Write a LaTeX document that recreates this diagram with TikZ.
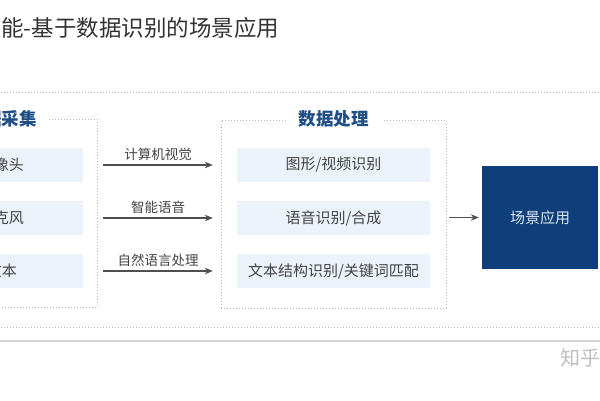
\documentclass[tikz,border=0pt]{standalone}
\usepackage{fontspec}
\setmainfont{Noto Sans CJK SC}
\usepackage{tikz}
\usepackage{xcolor}
\usetikzlibrary{arrows.meta, positioning, calc}
\definecolor{framegray}{HTML}{B4B8BD}
\definecolor{boxblue}{HTML}{EBF2FA}
\definecolor{titleblue}{HTML}{1F4E87}
\definecolor{appblue}{HTML}{0E3F7A}
\definecolor{apptext}{HTML}{DCE6F2}
\definecolor{textgray}{HTML}{444444}
\definecolor{arrowgray}{HTML}{4F4F4F}
\tikzset{groupframe/.style={draw=framegray, dash pattern=on 1pt off 2pt, line width=0.8pt, inner sep=0pt}}
\tikzset{itembox/.style={fill=boxblue, minimum height=34pt, inner sep=0pt, font=\fontsize{15}{18}\selectfont, text=textgray}}
\tikzset{procbox/.style={itembox, minimum width=193pt}}
\tikzset{srcbox/.style={itembox, minimum width=93pt}}
\tikzset{grouptitle/.style={fill=white, inner xsep=13pt, inner ysep=2pt, font=\fontsize{17.5}{20}\selectfont\bfseries, text=titleblue}}
\tikzset{flow/.style={draw=arrowgray, line width=1.2pt, -{Stealth[length=8pt, width=6.5pt]}}}
\tikzset{flowlabel/.style={above=4pt, inner sep=0pt, font=\fontsize{13.5}{16}\selectfont, text=textgray}}

\begin{document}
\begin{tikzpicture}[x=1pt, y=-1pt]
        \useasboundingbox[fill=white] (0,0) rectangle (600,400);
        \begin{scope}
            \node[anchor=west, inner sep=0pt, font=\fontsize{22.5}{26}\selectfont, text=black!80] (Ntitle) at (1,28) {能-基于数据识别的场景应用};

            \draw[groupframe] (-10,92) rectangle (610,327);
            \draw[draw=black!18, line width=1.5pt] (-5,341) -- (605,341);
            \node[anchor=west, inner sep=0pt, font=\fontsize{20}{24}\selectfont, text=black!25] (Nmark) at (560,358) {知乎};

            \node[groupframe, minimum width=107pt, minimum height=188pt] (Fsrc) at (43.5,213) {};
            \node[grouptitle, anchor=east, inner xsep=0pt] (Hsrc) at (37,119) {据采集};
            \fill[white] (37,112) rectangle (49,126);

            \node[srcbox] (Ns1) at (36.5,165) {};
            \node[srcbox] (Ns2) at (36.5,218) {};
            \node[srcbox] (Ns3) at (36.5,271) {};
            \node[anchor=east, inner sep=0pt, font=\fontsize{15}{18}\selectfont, text=textgray] (Ts1) at (24,165) {像头};
            \node[anchor=east, inner sep=0pt, font=\fontsize{15}{18}\selectfont, text=textgray] (Ts2) at (24,218) {克风};
            \node[anchor=east, inner sep=0pt, font=\fontsize{15}{18}\selectfont, text=textgray] (Ts3) at (17,271) {文本};

            \node[groupframe, minimum width=225pt, minimum height=188pt] (Fproc) at (333.5,214) {};
            \node[grouptitle] (Hproc) at (333.5,119) {数据处理};

            \node[procbox] (Np1) at (333.5,165) {图形/视频识别};
            \node[procbox] (Np2) at (333.5,218) {语音识别/合成};
            \node[procbox] (Np3) at (333.5,271) {文本结构识别/关键词匹配};

            \node[fill=appblue, minimum width=116pt, minimum height=103pt, inner sep=0pt, font=\fontsize{15}{18}\selectfont, text=apptext] (App) at (540,217.5) {场景应用};

            \draw[flow] ([xshift=20pt]Ns1.east) -- node[flowlabel] {计算机视觉} ([xshift=-24pt]Np1.west);
            \draw[flow] ([xshift=20pt]Ns2.east) -- node[flowlabel] {智能语音} ([xshift=-24pt]Np2.west);
            \draw[flow] ([xshift=20pt]Ns3.east) -- node[flowlabel] {自然语言处理} ([xshift=-24pt]Np3.west);

            \draw[flow] ([xshift=3pt]Fproc.east |- App.west) -- ([xshift=-3pt]App.west);
        \end{scope}
    \end{tikzpicture}
\end{document}
